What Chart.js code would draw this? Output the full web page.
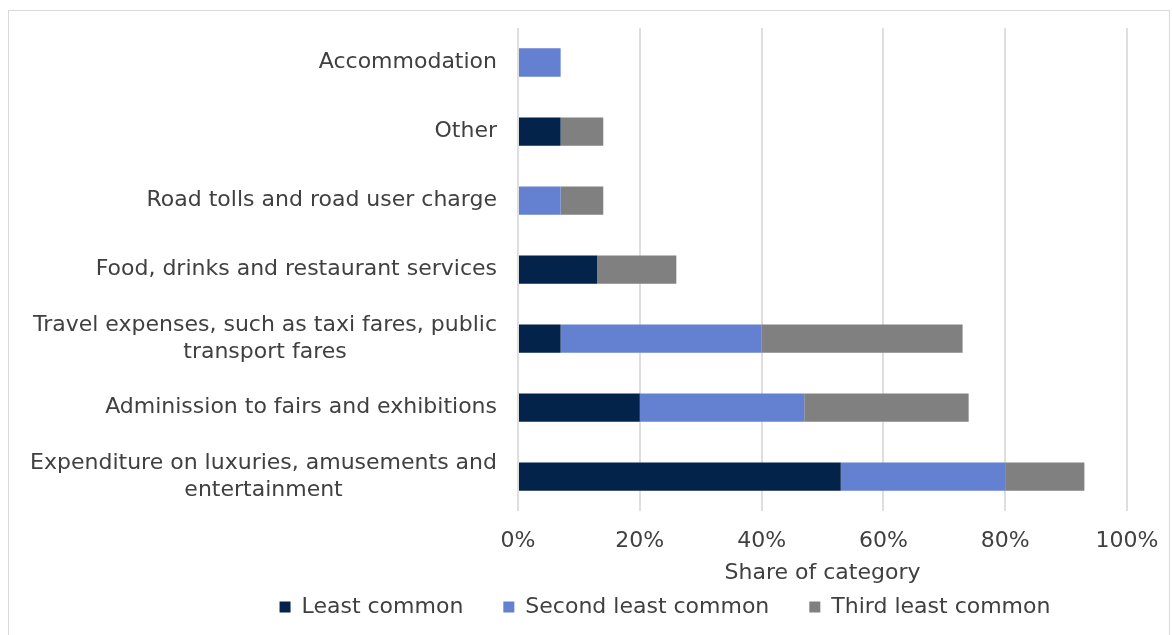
<!DOCTYPE html>
<html lang="en"><head>
<title>Share of category</title>
<meta charset="utf-8">
<style type="text/css">
body { margin:0; background:#ffffff; overflow:hidden; }
#frame { position:absolute; left:8px; top:10px; width:1162px; height:640px;
         border:1px solid #d9d9d9; box-sizing:border-box; }
#chart1 { position:absolute; left:0; top:0; width:1160px; height:624px; }
</style>
<script src="https://cdn.jsdelivr.net/npm/chart.js"></script>
<script>
// categories top to bottom
categories=["Accommodation","Other","Road tolls and road user charge",
  "Food, drinks and restaurant services",
  ["Travel expenses, such as taxi fares, public","transport fares"],
  "Adminission to fairs and exhibitions",
  ["Expenditure on luxuries, amusements and","entertainment"]];
seriesNames=["Least common","Second least common","Third least common"];
leastCommon=[0,7,0,13,7,20,53];
secondLeast=[7,0,7,0,33,27,27];
thirdLeast=[0,7,7,13,33,27,13];
xTicks=[0,20,40,60,80,100];

fontName="'DejaVu Sans', Verdana, sans-serif";

// y labels drawn centred line by line, right-aligned as a block
yLabelPlugin={id:'yLabels',afterDraw(chart){
  var ctx=chart.ctx, sc=chart.scales.y;
  ctx.save(); ctx.font="22px "+fontName; ctx.fillStyle="#404040";
  ctx.textAlign="center"; ctx.textBaseline="middle";
  for (var i=0;i<categories.length;i++) {
    var lines=Array.isArray(categories[i])?categories[i]:[categories[i]];
    var w=0; lines.forEach(function(l){w=Math.max(w,ctx.measureText(l).width);});
    var cx=sc.right-21-w/2, cy=sc.getPixelForTick(i)-(lines.length-1)*27/2;
    lines.forEach(function(l,j){ctx.fillText(l,cx,cy+j*27);}); }
  ctx.restore(); }};

function initChart() {
  Chart.defaults.font.family=fontName; Chart.defaults.font.size=22;
  Chart.defaults.color="#404040";
  var ds=function(lbl,vals,col){return {label:lbl,data:vals,backgroundColor:col,
    borderWidth:0,barPercentage:0.41,categoryPercentage:1};};
  myChart=new Chart(document.getElementById('myChart'),{type:'bar',
    data:{labels:categories,datasets:[
      ds(seriesNames[0],leastCommon,'#03234b'),
      ds(seriesNames[1],secondLeast,'#6480d0'),
      ds(seriesNames[2],thirdLeast,'#808080')]},
    options:{indexAxis:'y',animation:false,responsive:true,maintainAspectRatio:false,
      layout:{padding:{top:17,right:42,left:194,bottom:7}},
      scales:{
        x:{stacked:true,min:0,max:100,
          afterBuildTicks:function(s){s.ticks=xTicks.map(function(v){return {value:v};});},
          afterFit:function(s){s.paddingLeft=0; s.paddingRight=0;},
          ticks:{padding:17,callback:function(v){return v+'%';}},
          grid:{color:'#dedede',lineWidth:2,drawTicks:false},
          border:{display:false},
          title:{display:true,text:'Share of category',padding:{top:-12,bottom:-30}}},
        y:{stacked:true,grid:{display:false},border:{display:false},
          ticks:{display:false},
          afterFit:function(s){s.width=315;}}},
      plugins:{tooltip:{enabled:false},
        legend:{position:'bottom',labels:{boxWidth:11,boxHeight:11,padding:40}}}},
    plugins:[yLabelPlugin]}); }
</script></head>
<body onload="initChart();">
<div id="frame"><div id="chart1"><canvas id="myChart"></canvas></div></div>
</body></html>
